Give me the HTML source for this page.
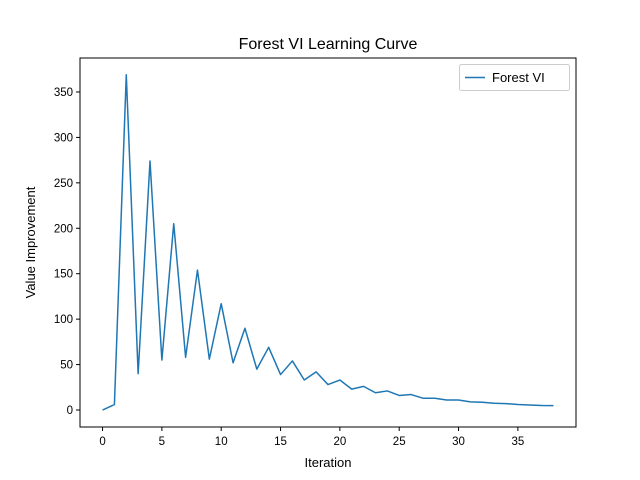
<!DOCTYPE html>
<html><head><meta charset="utf-8"><style>
body{margin:0;background:#fff;}
svg{display:block;font-family:"Liberation Sans","DejaVu Sans",sans-serif;}
</style></head><body>
<svg id="chart" width="640" height="480">
<rect width="640" height="480" fill="#fff"/>
<text x="328" y="49" font-size="16" text-anchor="middle">Forest VI Learning Curve</text>
<text x="328" y="467" font-size="13" text-anchor="middle">Iteration</text>
<text x="35" y="242.5" font-size="13" text-anchor="middle" transform="rotate(-90 35 242.5)">Value Improvement</text>
<g id="ticks"></g>
<path id="line" fill="none" stroke="#1f77b4" stroke-width="1.5" stroke-linejoin="round"/>
<rect x="80" y="58" width="496" height="369" fill="none" stroke="#000" stroke-width="1"/>
<g>
<rect x="459.5" y="64.5" width="110" height="26" rx="2" fill="#fff" stroke="#ccc"/>
<line x1="465" y1="77.5" x2="485" y2="77.5" stroke="#1f77b4" stroke-width="1.5"/>
<text x="492" y="82" font-size="13">Forest VI</text>
</g>
</svg>
<script>
const values = [0,6,369,40,274,55,205,58,154,56,117,52,90,45,69,39,54,33,42,28,33,23,26,19,21,16,17,13,13,11,11,9,8.5,7.5,7,6,5.5,5,4.8];
const xTicks = [0,5,10,15,20,25,30,35];
const yTicks = [0,50,100,150,200,250,300,350];
const xMin=-1.9, xMax=39.9, yMin=-18.7, yMax=387.4;
const L=80,R=576,T=58,B=427;
function sx(v){return L+(v-xMin)/(xMax-xMin)*(R-L);}
function sy(v){return B-(v-yMin)/(yMax-yMin)*(B-T);}
const ns="http://www.w3.org/2000/svg";
const g=document.getElementById('ticks');
xTicks.forEach(t=>{
  const x=sx(t);
  const ln=document.createElementNS(ns,'line');
  ln.setAttribute('x1',x);ln.setAttribute('x2',x);ln.setAttribute('y1',B);ln.setAttribute('y2',B+4);ln.setAttribute('stroke','#000');
  
  
  g.appendChild(ln);
  const tx=document.createElementNS(ns,'text');
  tx.setAttribute('x',x);tx.setAttribute('y',B+18);tx.setAttribute('font-size','11.5');tx.setAttribute('text-anchor','middle');
  tx.textContent=t;
  
  
  g.appendChild(tx);
});
yTicks.forEach(t=>{
  const y=sy(t);
  const ln=document.createElementNS(ns,'line');
  ln.setAttribute('x1',L-4);ln.setAttribute('x2',L);ln.setAttribute('y1',y);ln.setAttribute('y2',y);ln.setAttribute('stroke','#000');
  
  
  g.appendChild(ln);
  const tx=document.createElementNS(ns,'text');
  tx.setAttribute('x',L-7);tx.setAttribute('y',y+4);tx.setAttribute('font-size','11.5');tx.setAttribute('text-anchor','end');
  tx.textContent=t;
  
  
  g.appendChild(tx);
});
document.getElementById('line').setAttribute('d',values.map((v,i)=>(i?'L':'M')+sx(i).toFixed(2)+','+sy(v).toFixed(2)).join(' '));
</script>
</body></html>
